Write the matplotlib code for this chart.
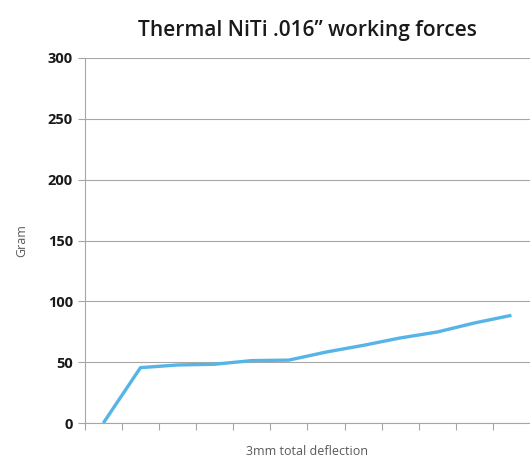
import matplotlib.pyplot as plt

# Working force (g) at each deflection step
steps = list(range(12))
force = [0, 45.5, 47.7, 48.3, 51.3, 51.7, 58.3, 63.8, 69.9, 74.8, 82.2, 88.5]
yticks = [0, 50, 100, 150, 200, 250, 300]

plt.rcParams['font.family'] = ['Open Sans', 'DejaVu Sans']

fig = plt.figure(figsize=(5.3, 4.61), dpi=100)
ax = fig.add_axes([0.160, 0.0824, 0.840, 0.7918])

ax.plot(steps, force, color='#56b4e6', linewidth=2.4, solid_capstyle='butt')

ax.set_xlim(-0.5, 11.5)
ax.set_ylim(0, 300)
ax.set_yticks(yticks)
ax.set_xticks([i - 0.5 for i in range(12)])
ax.set_xticklabels([])
ax.grid(axis='y', color='#a6a6a6', linewidth=0.8)
ax.set_axisbelow(True)

for side in ['top', 'right']:
    ax.spines[side].set_visible(False)
for side in ['left', 'bottom']:
    ax.spines[side].set_color('#a6a6a6')
    ax.spines[side].set_linewidth(0.8)

ax.tick_params(axis='both', color='#a6a6a6', length=5, width=0.8)
for lbl in ax.get_yticklabels():
    lbl.set_fontweight('bold')
    lbl.set_fontsize(10.5)
    lbl.set_color('#1a1a1a')

ax.set_title('Thermal NiTi .016\u201d working forces', fontsize=15, fontweight='semibold',
             color='#1a1a1a', pad=16)
ax.set_xlabel('3mm total deflection', fontsize=9, color='#595959', labelpad=7)
ax.set_ylabel('Gram', fontsize=9, color='#595959', labelpad=14)

fig.savefig('out.png', dpi=100)
